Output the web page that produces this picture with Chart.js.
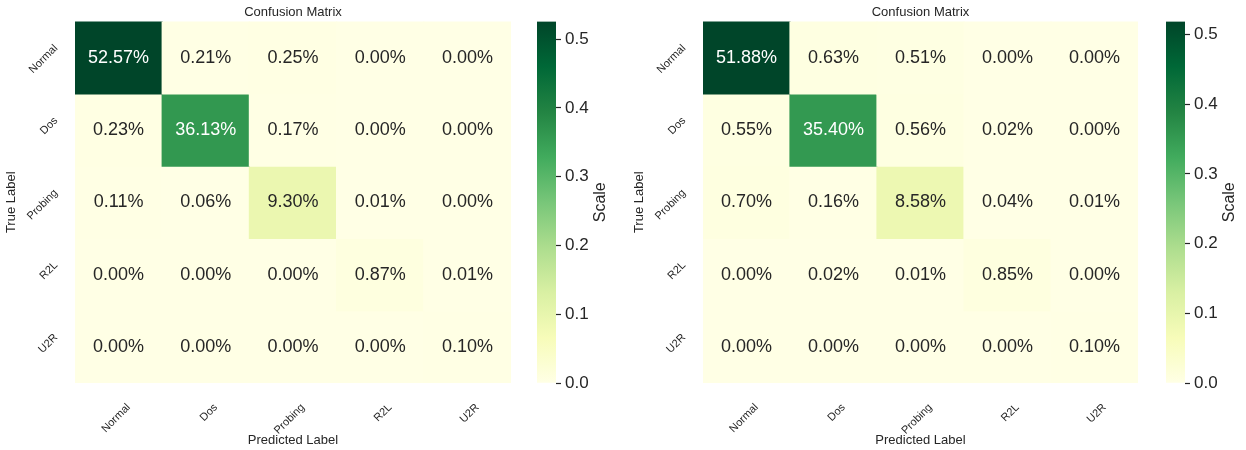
<!DOCTYPE html>
<html>
<head>
<meta charset="utf-8">
<script src="https://cdn.jsdelivr.net/npm/chart.js@4.4.1/dist/chart.umd.min.js"></script>
<style>
  html, body { margin: 0; padding: 0; background: #fff; }
  body { width: 1246px; height: 450px; position: relative; overflow: hidden; }
  canvas { position: absolute; top: 0; }
</style>
</head>
<body>
<canvas id="heatA" width="511" height="450" style="left:0px"></canvas>
<canvas id="barA" width="100" height="450" style="left:520px"></canvas>
<canvas id="heatB" width="510" height="450" style="left:628px"></canvas>
<canvas id="barB" width="100" height="450" style="left:1149px"></canvas>
<script>
// class names, rows = true label, columns = predicted label
const classes = ['Normal', 'Dos', 'Probing', 'R2L', 'U2R'];

// fractions of all samples (left model)
const matrixA = [
  [0.5257, 0.0021, 0.0025, 0.0000, 0.0000],
  [0.0023, 0.3613, 0.0017, 0.0000, 0.0000],
  [0.0011, 0.0006, 0.0930, 0.0001, 0.0000],
  [0.0000, 0.0000, 0.0000, 0.0087, 0.0001],
  [0.0000, 0.0000, 0.0000, 0.0000, 0.0010]
];

// fractions of all samples (right model)
const matrixB = [
  [0.5188, 0.0063, 0.0051, 0.0000, 0.0000],
  [0.0055, 0.3540, 0.0056, 0.0002, 0.0000],
  [0.0070, 0.0016, 0.0858, 0.0004, 0.0001],
  [0.0000, 0.0002, 0.0001, 0.0085, 0.0000],
  [0.0000, 0.0000, 0.0000, 0.0000, 0.0010]
];

const scaleTicks = [0, 0.1, 0.2, 0.3, 0.4, 0.5];

const FONT = '"Liberation Sans", Arial, sans-serif';
const DARK = '#262626';
Chart.defaults.font.family = FONT;
Chart.defaults.color = DARK;

// YlGn colour map
const YLGN = ['#ffffe5', '#f7fcb9', '#d9f0a3', '#addd8e', '#78c679', '#41ab5d', '#238443', '#006837', '#004529'];

function hexRgb(h) {
  return [1, 3, 5].map(k => parseInt(h.substr(k, 2), 16));
}

function ylgn(t) {
  t = Math.min(1, Math.max(0, t));
  const p = t * (YLGN.length - 1);
  const i = Math.min(Math.floor(p), YLGN.length - 2);
  const f = p - i;
  const a = hexRgb(YLGN[i]), b = hexRgb(YLGN[i + 1]);
  const c = a.map((v, k) => Math.round(v + (b[k] - v) * f));
  return 'rgb(' + c.join(',') + ')';
}

function textColour(rgb) {
  const c = rgb.match(/\d+/g).map(Number).map(v => {
    v /= 255;
    return v <= 0.03928 ? v / 12.92 : Math.pow((v + 0.055) / 1.055, 2.4);
  });
  const lum = 0.2126 * c[0] + 0.7152 * c[1] + 0.0722 * c[2];
  return lum > 0.408 ? DARK : '#ffffff';
}

// percentage written in the middle of every cell
const cellText = {
  id: 'cellText',
  afterDatasetsDraw(chart) {
    const ctx = chart.ctx;
    ctx.save();
    ctx.font = '18px ' + FONT;
    ctx.textAlign = 'center';
    ctx.textBaseline = 'middle';
    chart.data.datasets.forEach((ds, i) => {
      chart.getDatasetMeta(i).data.forEach((bar, j) => {
        const p = bar.getProps(['x', 'y', 'base'], true);
        ctx.fillStyle = textColour(ds.backgroundColor[j]);
        ctx.fillText((ds.values[j] * 100).toFixed(2) + '%', p.x, (p.y + p.base) / 2);
      });
    });
    ctx.restore();
  }
};

// rotated colour bar label
const scaleLabel = {
  id: 'scaleLabel',
  afterDraw(chart) {
    const ctx = chart.ctx, a = chart.chartArea;
    ctx.save();
    ctx.translate(a.left + 63.5, (a.top + a.bottom) / 2);
    ctx.rotate(-Math.PI / 2);
    ctx.font = '16px ' + FONT;
    ctx.fillStyle = DARK;
    ctx.textAlign = 'center';
    ctx.textBaseline = 'middle';
    ctx.fillText('Scale', 0, 0);
    ctx.restore();
  }
};

function heatmap(id, matrix, vmax) {
  const datasets = matrix.map((row, i) => ({
    label: classes[i],
    data: row.map(() => [i, i + 1]),
    values: row,
    backgroundColor: row.map(v => ylgn(v / vmax)),
    borderWidth: 0,
    inflateAmount: 0.6,
    grouped: false,
    barPercentage: 1,
    categoryPercentage: 1
  }));

  new Chart(document.getElementById(id), {
    type: 'bar',
    data: { labels: classes, datasets },
    plugins: [cellText],
    options: {
      responsive: false,
      animation: false,
      layout: { padding: 0 },
      plugins: { legend: { display: false }, tooltip: { enabled: false } },
      scales: {
        x: {
          position: 'bottom',
          grid: { display: false },
          border: { display: false },
          ticks: { minRotation: 45, maxRotation: 45, autoSkip: false, font: { size: 11 }, padding: 10, labelOffset: 10 },
          title: { display: true, text: 'Predicted Label', font: { size: 13 }, padding: { top: 0, bottom: 2 } },
          afterFit: s => { s.height = 67; }
        },
        top: {
          type: 'category',
          position: 'top',
          grid: { display: false },
          border: { display: false },
          ticks: { display: false },
          title: { display: true, text: 'Confusion Matrix', font: { size: 13 }, padding: { top: 5, bottom: 0 } },
          afterFit: s => { s.height = 21.5; }
        },
        y: {
          type: 'linear',
          min: 0,
          max: 5,
          reverse: true,
          grid: { display: false },
          border: { display: false },
          afterBuildTicks: s => { s.ticks = classes.map((_, i) => ({ value: i + 0.5 })); },
          ticks: {
            callback: (v, i) => classes[i],
            minRotation: 45, maxRotation: 45, autoSkip: false,
            font: { size: 11 }, padding: 11, labelOffset: -11
          },
          title: { display: true, text: 'True Label', font: { size: 13 }, padding: { top: 4, bottom: 0 } },
          afterFit: s => { s.width = 75; s.paddingTop = 0; s.paddingBottom = 0; }
        }
      }
    }
  });
}

function colourBar(id, vmax) {
  new Chart(document.getElementById(id), {
    type: 'bar',
    data: {
      labels: [''],
      datasets: [{
        data: [[0, vmax]],
        backgroundColor: c => {
          const a = c.chart.chartArea;
          if (!a) return null;
          const g = c.chart.ctx.createLinearGradient(0, a.bottom, 0, a.top);
          YLGN.forEach((col, k) => g.addColorStop(k / (YLGN.length - 1), col));
          return g;
        },
        borderWidth: 0,
        barPercentage: 1,
        categoryPercentage: 1
      }]
    },
    plugins: [scaleLabel],
    options: {
      responsive: false,
      animation: false,
      layout: { padding: { left: 17, right: 0, top: 21.5, bottom: 67 } },
      plugins: { legend: { display: false }, tooltip: { enabled: false } },
      scales: {
        x: { display: false },
        y: {
          position: 'right',
          min: 0,
          max: vmax,
          afterBuildTicks: s => { s.ticks = scaleTicks.map(v => ({ value: v })); },
          ticks: { callback: v => v.toFixed(1), font: { size: 17 }, padding: 4 },
          grid: { drawOnChartArea: false, drawTicks: true, tickLength: 5, tickColor: DARK, tickWidth: 1.2 },
          border: { display: false },
          afterFit: s => { s.width = 64; }
        }
      }
    }
  });
}

const maxA = Math.max(...matrixA.flat());
const maxB = Math.max(...matrixB.flat());

heatmap('heatA', matrixA, maxA);
colourBar('barA', maxA);
heatmap('heatB', matrixB, maxB);
colourBar('barB', maxB);
</script>
</body>
</html>
